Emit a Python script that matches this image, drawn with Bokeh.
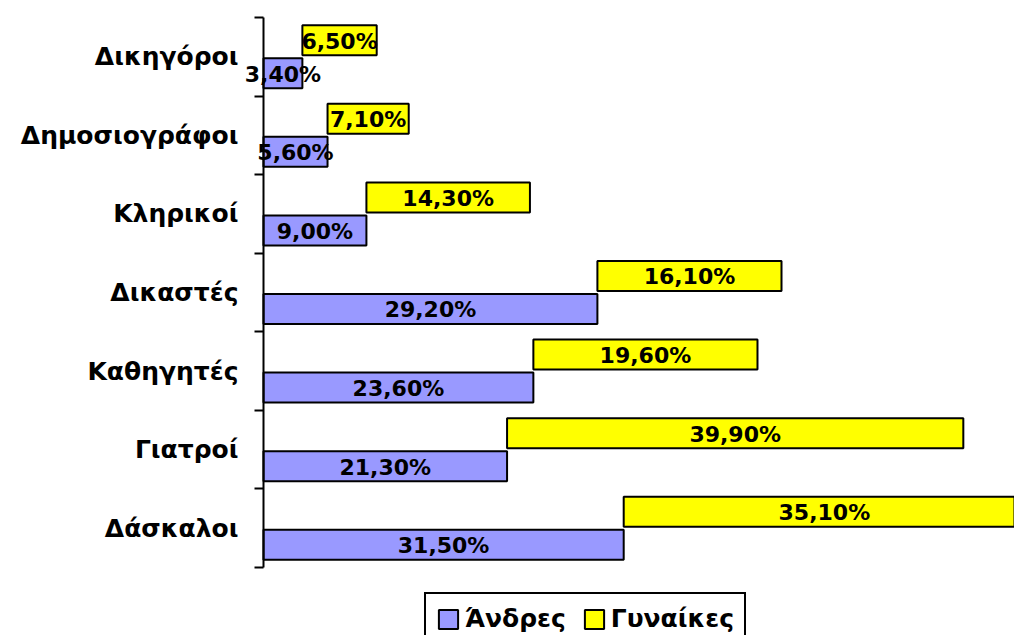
from bokeh.plotting import figure
from bokeh.models import (ColumnDataSource, Range1d, FixedTicker, LabelSet,
                          Legend, LegendItem)
from bokeh.core.properties import value
from bokeh.embed import file_html
from bokeh.resources import INLINE

categories = ["Δικηγόροι", "Δημοσιογράφοι", "Κληρικοί", "Δικαστές",
              "Καθηγητές", "Γιατροί", "Δάσκαλοι"]
men = [3.4, 5.6, 9.0, 29.2, 23.6, 21.3, 31.5]
women = [6.5, 7.1, 14.3, 16.1, 19.6, 39.9, 35.1]
series_names = ["Άνδρες", "Γυναίκες"]
colors = ["#9999FF", "#FFFF00"]

FONT = "DejaVu Sans"
n = len(categories)
centers = [i + 0.5 for i in range(n)]
off = 0.21
bh = 0.382

PX_X = 11.435   # px per percent
PX_Y = 78.57    # px per category
X0, Y0, Y1 = 263, 17, 567   # axis origin / extent in page pixels

def fmt(v):
    return ("%.2f%%" % v).replace(".", ",")

men_src = ColumnDataSource(dict(
    y=[c + off for c in centers], left=[0] * n, right=men,
    mid=[m / 2 for m in men], lab=[fmt(m) for m in men]))
wom_src = ColumnDataSource(dict(
    y=[c - off for c in centers], left=men,
    right=[m + w for m, w in zip(men, women)],
    mid=[m + w / 2 for m, w in zip(men, women)], lab=[fmt(w) for w in women]))

W, H = 1014, 635
p = figure(width=W, height=H, output_backend="svg", toolbar_location=None,
           x_range=Range1d(-X0 / PX_X, (W - X0) / PX_X),
           y_range=Range1d(n + (H - Y1) / PX_Y, -Y0 / PX_Y),
           x_axis_location=None, min_border=0)
p.outline_line_color = None
p.grid.visible = False
p.background_fill_color = "white"
p.border_fill_color = "white"

r_men = p.hbar(y="y", left="left", right="right", height=bh, source=men_src,
               fill_color=colors[0], line_color="black", line_width=2)
r_wom = p.hbar(y="y", left="left", right="right", height=bh, source=wom_src,
               fill_color=colors[1], line_color="black", line_width=2)

for src in (men_src, wom_src):
    p.add_layout(LabelSet(x="mid", y="y", text="lab", source=src,
                          text_align="center", text_baseline="middle",
                          text_font=value(FONT), text_font_style="bold",
                          text_font_size="22px", text_color="black",
                          y_offset=-1))

ax = p.yaxis[0]
ax.fixed_location = 0
ax.bounds = (0, n)
ax.ticker = FixedTicker(ticks=centers, minor_ticks=list(range(n + 1)))
ax.major_label_overrides = {c: name for c, name in zip(centers, categories)}
ax.major_tick_out = 0
ax.major_tick_in = 0
ax.minor_tick_out = 9
ax.minor_tick_in = 0
ax.minor_tick_line_color = "black"
ax.minor_tick_line_width = 2
ax.axis_line_color = "black"
ax.axis_line_width = 2
ax.major_label_standoff = 16
ax.major_label_text_font = FONT
ax.major_label_text_font_style = "bold"
ax.major_label_text_font_size = "25px"
ax.major_label_text_color = "black"

legend = Legend(items=[LegendItem(label=series_names[0], renderers=[r_men]),
                       LegendItem(label=series_names[1], renderers=[r_wom])],
                orientation="horizontal", location=(424, -10))
legend.border_line_color = "black"
legend.border_line_alpha = 1
legend.border_line_width = 2
legend.background_fill_color = "white"
legend.background_fill_alpha = 1
legend.glyph_width = 24
legend.glyph_height = 24
legend.label_standoff = 5
legend.spacing = 16
legend.padding = 10
legend.margin = 0
legend.label_text_font = FONT
legend.label_text_font_style = "bold"
legend.label_text_font_size = "25px"
legend.label_text_color = "black"
p.add_layout(legend, "center")

open("out.html", "w").write(file_html(p, INLINE))
